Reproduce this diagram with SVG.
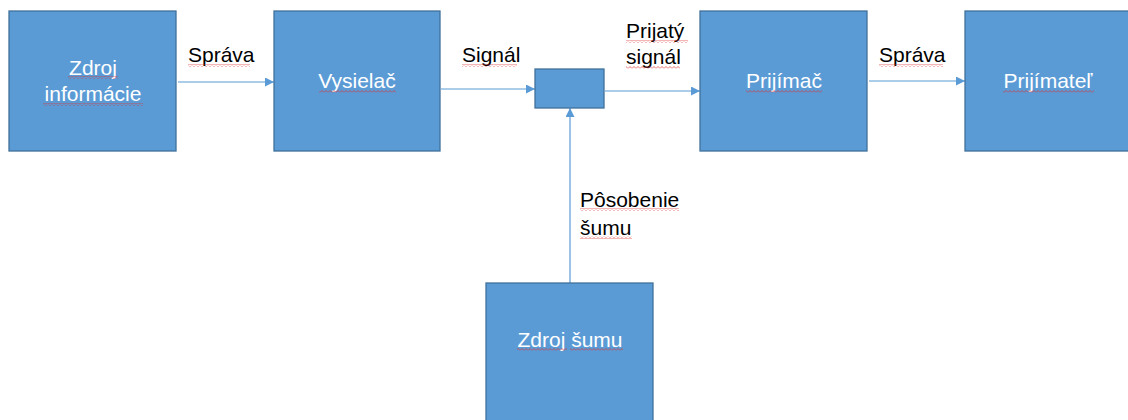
<svg xmlns="http://www.w3.org/2000/svg" width="1128" height="420" viewBox="0 0 1128 420">
<defs>
<marker id="ah" viewBox="0 0 10 10" refX="10" refY="5" markerWidth="9" markerHeight="9" markerUnits="userSpaceOnUse" orient="auto">
<path d="M0,0 L10,5 L0,10 z" fill="#5B9BD5"/>
</marker>
<pattern id="sq" width="4" height="3" patternUnits="userSpaceOnUse">
<polyline points="0,2.5 2,0.5 4,2.5" fill="none" stroke="#E03030" stroke-width="0.7"/>
</pattern>
</defs>
<style>
.box{fill:#5B9BD5;stroke:#41719C;stroke-width:1.3}
.wt{font-family:"Liberation Sans",Arial,sans-serif;font-size:21px;fill:#FFFFFF;text-anchor:middle}
.bt{font-family:"Liberation Sans",Arial,sans-serif;font-size:21px;fill:#000000}
.ln{stroke:#5B9BD5;stroke-width:1.2;fill:none;marker-end:url(#ah)}
.sq{fill:url(#sq)}
</style>
<rect width="1128" height="420" fill="#FFFFFF"/>
<g id="connectors">
<line class="ln" x1="178" y1="82" x2="274" y2="82"/>
<line class="ln" x1="441" y1="89" x2="535" y2="89"/>
<line class="ln" x1="605" y1="91" x2="700" y2="91"/>
<line class="ln" x1="869" y1="81" x2="965" y2="81"/>
<line class="ln" x1="570" y1="283" x2="570" y2="108"/>
</g>
<g id="labels">
<text class="bt" x="188" y="62">Správa</text>
<rect class="sq" x="188" y="64" width="62" height="3"/>
<text class="bt" x="462" y="62">Signál</text>
<rect class="sq" x="462" y="64" width="55" height="3"/>
<text class="bt" x="626" y="38">Prijatý</text>
<rect class="sq" x="626" y="40" width="62" height="3"/>
<text class="bt" x="626" y="64">signál</text>
<rect class="sq" x="626" y="66" width="54" height="3"/>
<text class="bt" x="879" y="62">Správa</text>
<rect class="sq" x="879" y="64" width="64" height="3"/>
<text class="bt" x="580" y="207">Pôsobenie</text>
<rect class="sq" x="580" y="208" width="99" height="3"/>
<text class="bt" x="580" y="235">šumu</text>
<rect class="sq" x="580" y="236" width="52" height="3"/>
</g>
<g id="zdroj-informacie">
<rect class="box" x="9" y="11" width="167" height="140"/>
<text class="wt" x="93" y="75">Zdroj</text>
<text class="wt" x="93" y="101">informácie</text>
<rect class="sq" x="68" y="76" width="50" height="3"/>
<rect class="sq" x="43" y="103" width="100" height="3"/>
</g>
<g id="vysielac">
<rect class="box" x="274" y="11" width="166" height="140"/>
<text class="wt" x="357" y="88">Vysielač</text>
<rect class="sq" x="319" y="90" width="77" height="3"/>
</g>
<g id="kanal">
<rect class="box" x="535" y="69" width="69" height="39"/>
</g>
<g id="prijimac">
<rect class="box" x="700" y="11" width="167" height="140"/>
<text class="wt" x="784" y="88">Prijímač</text>
<rect class="sq" x="746" y="90" width="76" height="3"/>
</g>
<g id="prijimatel">
<rect class="box" x="965" y="11" width="167" height="140"/>
<text class="wt" x="1048" y="88">Prijímateľ</text>
<rect class="sq" x="1003" y="90" width="91" height="3"/>
</g>
<g id="zdroj-sumu">
<rect class="box" x="486" y="283" width="167" height="140"/>
<text class="wt" x="570" y="347">Zdroj šumu</text>
<rect class="sq" x="517" y="348" width="50" height="3"/>
<rect class="sq" x="570" y="348" width="53" height="3"/>
</g>
</svg>
